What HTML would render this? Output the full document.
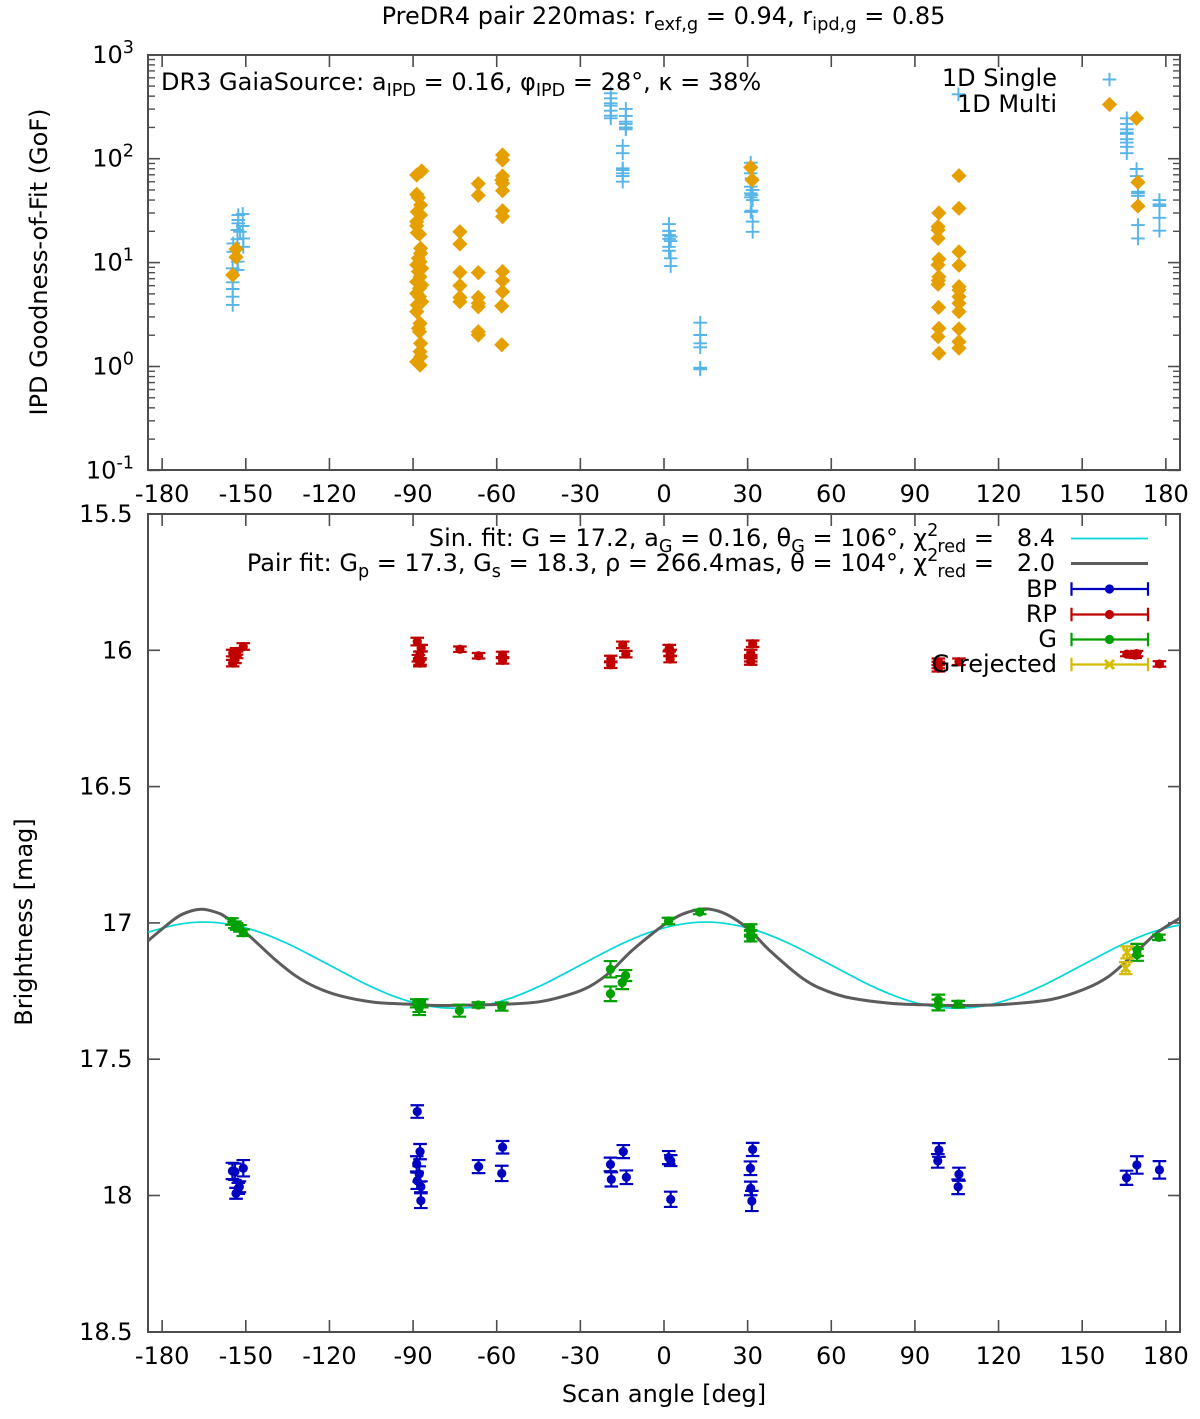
<!DOCTYPE html>
<html lang="en">
<head>
<meta charset="utf-8">
<title>PreDR4 pair scan angle chart</title>
<style>
html,body{margin:0;padding:0;background:#fff;}
svg{display:block;}
text{font-family:"DejaVu Sans","Liberation Sans",sans-serif;font-size:24px;fill:#000;white-space:pre;}
</style>
</head>
<body>
<svg id="chart" width="1200" height="1419" viewBox="0 0 1200 1419" xmlns="http://www.w3.org/2000/svg">
<rect x="0" y="0" width="1200" height="1419" fill="#fff"/>
<defs>
<clipPath id="bottom-clip"><rect x="148" y="514" width="1032" height="818"/></clipPath>
</defs>
<g id="top-axes"></g>
<g id="bottom-axes"></g>
<g id="top-marks"></g>
<g id="bottom-marks" clip-path="url(#bottom-clip)"></g>
<g id="legend-marks"></g>

<text x="663.5" y="24" text-anchor="middle">PreDR4 pair 220mas: r<tspan dy="6" font-size="17.8">exf,g</tspan><tspan dy="-6"> = 0.94, r</tspan><tspan dy="6" font-size="17.8">ipd,g</tspan><tspan dy="-6"> = 0.85</tspan></text>
<text x="161" y="90">DR3 GaiaSource: a<tspan dy="6" font-size="17.6">IPD</tspan><tspan dy="-6"> = 0.16, φ</tspan><tspan dy="6" font-size="17.6">IPD</tspan><tspan dy="-6"> = 28°, κ = 38%</tspan></text>
<text x="1057" y="86" text-anchor="end">1D Single</text>
<text x="1057" y="112" text-anchor="end">1D Multi</text>
<text x="0" y="0" text-anchor="middle" transform="translate(47,262) rotate(-90)">IPD Goodness-of-Fit (GoF)</text>

<text x="1055" y="546" text-anchor="end">Sin. fit: G = 17.2, a<tspan dy="6" font-size="17.6">G</tspan><tspan dy="-6"> = 0.16, θ</tspan><tspan dy="6" font-size="17.6">G</tspan><tspan dy="-6"> = 106°, χ</tspan><tspan dy="-10" font-size="17.6">2</tspan><tspan dy="16" dx="-1" font-size="17.6">red</tspan><tspan dy="-6"> =   8.4</tspan></text>
<text x="1055" y="571" text-anchor="end">Pair fit: G<tspan dy="6" font-size="17.6">p</tspan><tspan dy="-6"> = 17.3, G</tspan><tspan dy="6" font-size="17.6">s</tspan><tspan dy="-6"> = 18.3, ρ = 266.4mas, θ = 104°, χ</tspan><tspan dy="-10" font-size="17.6">2</tspan><tspan dy="16" dx="-1" font-size="17.6">red</tspan><tspan dy="-6"> =   2.0</tspan></text>
<text x="1057" y="597" text-anchor="end">BP</text>
<text x="1057" y="622" text-anchor="end">RP</text>
<text x="1057" y="647" text-anchor="end">G</text>
<text x="1057" y="672" text-anchor="end">G-rejected</text>
<text x="0" y="0" text-anchor="middle" transform="translate(32,922) rotate(-90)">Brightness [mag]</text>
<text x="664" y="1402" text-anchor="middle">Scan angle [deg]</text>
</svg>

<script>
// ---- tick data ----
const xTickValues = [-180,-150,-120,-90,-60,-30,0,30,60,90,120,150,180];
const gofTickExponents = [3,2,1,0,-1];
const magTickValues = [15.5,16,16.5,17,17.5,18,18.5];
const magTickLabels = ['15.5','16','16.5','17','17.5','18','18.5'];

// ---- top panel: IPD goodness of fit ----
const singleAngles = [
 -154.7,-154.7,-154.7,-154.7,-154.7,-151.1,-152.7,-152.7,-152.7,-151.1,-153,-152.1,-150.9,-153,-154.5,-150.9,-154.5,-152.9,-152.9,
 -19.1,-19.1,-19.1,-19.1,-19.1,-19.1,-19.1,
 -13.7,-13.7,-13.7,-13.7,-13.7,-13.7,
 -14.8,-14.8,-14.8,-14.8,-14.8,-14.8,-14.8,
 1.8,1.8,1.8,2.4,1.8,2.4,1.8,1.8,2.4,2.4,
 31.1,31.1,31.4,31.1,31.8,31.1,31.4,31.1,31.8,31.4,31.1,31.8,31.8,
 13,13,13,13,13,13,
 105.6,
 166,166,166,166,166,166,166,166,166,
 169.5,169.5,170,170,170,170,170,
 177.7,177.7,177.7,177.7,177.7
];
const singleGof = [
 8.81,6.46,5.57,4.70,3.91,29.4,28.7,25.7,23.9,22.5,20.6,19.8,17.1,16.8,15.3,14.2,12.7,10.2,8.49,
 426,381,341,324,290,259,245,
 301,258,227,216,200,192,
 133,113,80.9,77.8,72.3,68.1,60.1,
 23.5,20.2,18.4,17.8,16.9,16.1,14.2,13.0,11.0,9.27,
 91.5,72.3,64.8,53.8,50,46.4,44.7,42.5,40,31.6,30.7,24.8,19.8,
 2.64,2.01,1.67,1.53,0.973,0.94,
 417,
 245,216,192,178,173,154,143,130,113,
 79.6,68.1,48.1,46.4,43.8,23,17.1,
 40,36.4,35,27,20.3
];
const multiAngles = [
 -154.7,-153.5,-153.5,
 -86.9,-88.7,-88.7,-88.1,-87.3,-88.5,-87.3,-88.7,-88.7,-88.5,-87.7,-87.3,-87.3,-88.1,-87.5,-88.7,-86.9,-88.1,-87.5,-88.7,-86.9,-87.7,-88.7,-87.7,-86.9,-88.5,-88.7,-87.5,-88.1,-87.7,-87.3,-87.5,-87.3,-88.7,-87.5,
 -73.2,-73.2,-73.2,-73.2,-73.2,-73.2,
 -66.6,-66.6,-66.6,-66.6,-66.6,-66.6,-66.6,-66.6,
 -57.9,-57.9,-57.9,-58.2,-57.9,-57.9,-57.9,-57.9,-57.9,-57.9,-57.9,-58.2,-58.2,
 31.1,31.6,
 98.6,98.3,98.3,98.3,98.6,98.3,98.6,98.4,98.3,98.5,98.6,98.3,98.6,
 105.8,105.8,105.8,105.8,105.8,105.8,105.8,105.8,105.8,105.8,105.8,105.8,
 169.5,170,170
];
const multiGof = [
 7.6,13.5,11.3,
 76.2,69.7,45.4,42.2,35.8,30.9,28.7,24.8,22.6,19.4,18.8,13.7,12.3,11.0,10.2,9.5,8.8,8.2,7.3,6.55,6.09,5.66,5.06,4.70,4.2,3.91,3.37,2.6,2.33,2.16,1.67,1.39,1.24,1.11,1.03,
 19.8,15.1,8.06,6.0,4.63,4.2,
 57.5,44.4,8.0,4.63,4.06,3.76,2.16,2.01,
 108.6,97.2,68.1,62.4,58,49.2,31.6,27.7,8.2,6.7,5.25,3.82,1.62,
 82.6,62.4,
 30,22.2,20.6,17.1,10.8,9.5,7.3,6.7,6.18,3.71,2.33,1.94,1.34,
 68.6,33.3,12.7,9.42,5.87,5.45,4.7,4.06,3.37,2.3,1.73,1.5,
 245,59.3,35
];

// ---- bottom panel: photometry ----
const bpAngles = [-154.8,-150.9,-153.9,-152.7,-153.5,-152.3,-88.5,-87.5,-88.7,-87.8,-88.5,-87.2,-87.2,-66.5,-57.9,-58.2,-19.2,-18.9,-14.6,-13.5,1.7,2.4,2.4,31.8,31,31.1,31.5,98.6,98.2,105.8,105.5,165.9,169.6,177.7];
const bpMag = [17.91,17.9,17.913,17.974,17.992,17.968,17.692,17.839,17.884,17.921,17.946,17.968,18.019,17.894,17.823,17.919,17.886,17.941,17.839,17.933,17.861,17.872,18.014,17.831,17.9,17.974,18.02,17.833,17.873,17.922,17.968,17.935,17.888,17.906];
const bpErr = [0.03,0.03,0.03,0.02,0.02,0.02,0.023,0.028,0.028,0.028,0.03,0.02,0.027,0.024,0.023,0.028,0.025,0.026,0.024,0.025,0.024,0.02,0.028,0.024,0.025,0.025,0.037,0.025,0.025,0.024,0.027,0.026,0.032,0.032];

const rpAngles = [-150.9,-153.3,-154.7,-153.3,-153.9,-154.7,-88.5,-87.1,-87.6,-88.1,-87.5,-87.6,-73.2,-66.5,-57.9,-57.9,-19.1,-19.1,-14.8,-13.7,1.9,2.2,2.2,31.8,31.1,31.1,31.1,98.4,98.4,98.4,105.8,166,169.5,169,177.7];
const rpMag = [15.986,16.004,16.01,16.017,16.035,16.047,15.968,15.992,16.017,16.029,16.041,16.047,15.996,16.02,16.017,16.037,16.032,16.053,15.98,16.014,15.992,16.01,16.032,15.976,16.01,16.029,16.041,16.042,16.054,16.066,16.042,16.014,16.012,16.018,16.05];
const rpErr = [0.012,0.012,0.012,0.012,0.012,0.012,0.014,0.012,0.012,0.012,0.012,0.012,0.01,0.01,0.012,0.012,0.012,0.012,0.012,0.012,0.012,0.012,0.012,0.012,0.012,0.012,0.012,0.012,0.012,0.012,0.012,0.008,0.01,0.01,0.01];

const gAngles = [-155,-153.9,-153.3,-152.1,-150.9,-88.7,-86.9,-87.8,-87.8,-73.4,-66.6,-58.2,-19.2,-19.2,-15,-13.8,1.6,12.8,31.1,31.1,31.1,98.4,98.4,105.5,169.7,169.7,177.5];
const gMag = [16.995,17.007,17.013,17.02,17.036,17.295,17.295,17.307,17.313,17.322,17.301,17.307,17.17,17.26,17.219,17.193,16.993,16.96,17.017,17.038,17.056,17.283,17.301,17.298,17.099,17.117,17.053];
const gErr = [0.012,0.012,0.012,0.012,0.012,0.015,0.015,0.02,0.025,0.022,0.01,0.015,0.03,0.027,0.024,0.02,0.012,0.008,0.012,0.012,0.012,0.02,0.02,0.012,0.022,0.022,0.01];

const rejectedAngles = [166.1,165.6];
const rejectedMag = [17.108,17.166];
const rejectedErr = [0.022,0.022];

// ---- fitted curves ----
const sinFitAngles = [-185,-175,-165,-155,-145,-135,-125,-115,-105,-95,-85,-75,-65,-55,-45,-35,-25,-15,-5,5,15,25,35,45,55,65,75,85,95,105,115,125,135,145,155,165,175,185];
const sinFitMag = [17.034,17.007,16.997,17.007,17.034,17.076,17.128,17.182,17.234,17.276,17.304,17.313,17.304,17.276,17.234,17.182,17.128,17.076,17.034,17.007,16.997,17.007,17.034,17.076,17.128,17.182,17.234,17.276,17.304,17.313,17.304,17.276,17.234,17.182,17.128,17.076,17.034,17.007];
const pairFitAngles = [-185,-176,-171.3,-166,-161,-157,-148.5,-140,-132,-124.6,-116,-104,-92,-80,-68,-56.4,-44.5,-33.7,-26.5,-19.3,-12.2,-5,0.7,6.6,13.8,19.6,25.3,31.1,38.3,49.9,58.5,67.2,81.5,95.8,110.3,124.7,139.3,150.8,159.4,168,176.6,185];
const pairFitMag = [17.065,16.989,16.962,16.95,16.96,16.98,17.05,17.13,17.195,17.237,17.268,17.291,17.298,17.303,17.301,17.298,17.289,17.262,17.232,17.18,17.108,17.046,17.002,16.968,16.949,16.957,16.985,17.03,17.105,17.205,17.25,17.276,17.295,17.301,17.303,17.297,17.28,17.243,17.197,17.12,17.038,16.983];

// ---- axis functions ----
const NS = 'http://www.w3.org/2000/svg';
const plotLeft = 148, plotRight = 1180;
const topPanelTop = 55, topPanelBottom = 470;
const botPanelTop = 514, botPanelBottom = 1332;
const axisColor = '#4d4d4d';
function xScale(deg){ return 664 + 2.788 * deg; }
function gofScale(v){ return 366.5 - 103.9 * Math.log10(v); }
function magScale(m){ return 514 + (m - 15.5) * 272.6; }

function mk(tag, parent, props){
  const el = document.createElementNS(NS, tag);
  for (const k in props) el.setAttribute(k, props[k]);
  parent.appendChild(el);
  return el;
}
function line(parent, x1, y1, x2, y2, color, w){
  return mk('line', parent, {x1:x1, y1:y1, x2:x2, y2:y2, stroke:color, 'stroke-width':w});
}

// ---- axes ----
function drawFrame(group, top, bottom, name){
  const r = mk('rect', group, {x:plotLeft, y:top, width:plotRight-plotLeft, height:bottom-top, fill:'none', stroke:axisColor, 'stroke-width':2});
  
  
  xTickValues.forEach(function(v){
    const x = xScale(v);
    const t1 = line(group, x, bottom, x, bottom-12, axisColor, 1.6);
    
    
    const t2 = line(group, x, top, x, top+12, axisColor, 1.6);
    
    
    const lbl = mk('text', group, {x:x, y:bottom+32, 'text-anchor':'middle'});
    
    
    lbl.textContent = String(v);
  });
}
const topAxes = document.getElementById('top-axes');
const botAxes = document.getElementById('bottom-axes');
drawFrame(topAxes, topPanelTop, topPanelBottom, 'gof-panel-frame');
drawFrame(botAxes, botPanelTop, botPanelBottom, 'brightness-panel-frame');

gofTickExponents.forEach(function(e){
  const y = gofScale(Math.pow(10, e));
  const a = line(topAxes, plotLeft, y, plotLeft+12, y, axisColor, 1.6);
  
  
  const b = line(topAxes, plotRight, y, plotRight-12, y, axisColor, 1.6);
  
  
  const lbl = mk('text', topAxes, {x:134, y:y+8, 'text-anchor':'end'});
  
  
  lbl.appendChild(document.createTextNode('10'));
  const sup = mk('tspan', lbl, {dy:-10, 'font-size':17.6});
  sup.textContent = String(e);
  if (e < 3) {
    for (let m = 2; m <= 9; m++) {
      const my = gofScale(m * Math.pow(10, e));
      const c = line(topAxes, plotLeft, my, plotLeft+7, my, axisColor, 1.4);
      
      
      const d = line(topAxes, plotRight, my, plotRight-7, my, axisColor, 1.4);
      
      
    }
  }
});

magTickValues.forEach(function(v, i){
  const y = magScale(v);
  const a = line(botAxes, plotLeft, y, plotLeft+12, y, axisColor, 1.6);
  
  
  const b = line(botAxes, plotRight, y, plotRight-12, y, axisColor, 1.6);
  
  
  const lbl = mk('text', botAxes, {x:132.5, y:y+8, 'text-anchor':'end'});
  
  
  lbl.textContent = magTickLabels[i];
});

// ---- marker helpers ----
function crossAt(parent, x, y){
  const g = mk('path', parent, {d:'M'+(x-6.8)+' '+y+'H'+(x+6.8)+'M'+x+' '+(y-6.8)+'V'+(y+6.8), stroke:'#56b4e9', 'stroke-width':1.9, fill:'none'});
  return g;
}
function diamondAt(parent, x, y){
  const s = 7.6;
  return mk('path', parent, {d:'M'+x+' '+(y-s)+'L'+(x+s)+' '+y+'L'+x+' '+(y+s)+'L'+(x-s)+' '+y+'Z', fill:'#e69f00'});
}
function errPoint(parent, x, y, yLow, yHigh, color, rejected){
  const g = mk('g', parent, {});
  const cap = 6.8;
  mk('path', g, {d:'M'+x+' '+yLow+'V'+yHigh+'M'+(x-cap)+' '+yLow+'H'+(x+cap)+'M'+(x-cap)+' '+yHigh+'H'+(x+cap), stroke:color, 'stroke-width':2.2, fill:'none'});
  if (rejected) {
    mk('path', g, {d:'M'+(x-4.5)+' '+(y-4.5)+'L'+(x+4.5)+' '+(y+4.5)+'M'+(x+4.5)+' '+(y-4.5)+'L'+(x-4.5)+' '+(y+4.5), stroke:color, 'stroke-width':2.8, fill:'none'});
  } else {
    mk('circle', g, {cx:x, cy:y, r:4.6, fill:color});
  }
  return g;
}
function smoothPath(xs, ys){
  let d = 'M' + xs[0].toFixed(2) + ' ' + ys[0].toFixed(2);
  for (let i = 0; i < xs.length - 1; i++) {
    const p0 = i > 0 ? i - 1 : i, p3 = i + 2 < xs.length ? i + 2 : i + 1;
    const c1x = xs[i] + (xs[i+1] - xs[p0]) / 6, c1y = ys[i] + (ys[i+1] - ys[p0]) / 6;
    const c2x = xs[i+1] - (xs[p3] - xs[i]) / 6, c2y = ys[i+1] - (ys[p3] - ys[i]) / 6;
    d += 'C' + c1x.toFixed(2) + ' ' + c1y.toFixed(2) + ' ' + c2x.toFixed(2) + ' ' + c2y.toFixed(2) + ' ' + xs[i+1].toFixed(2) + ' ' + ys[i+1].toFixed(2);
  }
  return d;
}

// ---- top panel marks ----
const topMarks = document.getElementById('top-marks');
singleGof.forEach(function(v, i){
  const el = crossAt(topMarks, xScale(singleAngles[i]), gofScale(v));
  
  
});
multiGof.forEach(function(v, i){
  const el = diamondAt(topMarks, xScale(multiAngles[i]), gofScale(v));
  
  
});

// ---- bottom panel marks ----
const botMarks = document.getElementById('bottom-marks');
const sinLine = mk('path', botMarks, {d:smoothPath(sinFitAngles.map(xScale), sinFitMag.map(magScale)), fill:'none', stroke:'#00d8d8', 'stroke-width':1.7});


const pairLine = mk('path', botMarks, {d:smoothPath(pairFitAngles.map(xScale), pairFitMag.map(magScale)), fill:'none', stroke:'#5c5c5c', 'stroke-width':3});



bpMag.forEach(function(m, i){
  const el = errPoint(botMarks, xScale(bpAngles[i]), magScale(m), magScale(m - bpErr[i]), magScale(m + bpErr[i]), '#0000c0', false);
  
  
});
rpMag.forEach(function(m, i){
  const el = errPoint(botMarks, xScale(rpAngles[i]), magScale(m), magScale(m - rpErr[i]), magScale(m + rpErr[i]), '#c00000', false);
  
  
});
gMag.forEach(function(m, i){
  const el = errPoint(botMarks, xScale(gAngles[i]), magScale(m), magScale(m - gErr[i]), magScale(m + gErr[i]), '#00a000', false);
  
  
});
rejectedMag.forEach(function(m, i){
  const el = errPoint(botMarks, xScale(rejectedAngles[i]), magScale(m), magScale(m - rejectedErr[i]), magScale(m + rejectedErr[i]), '#d4bc00', true);
  
  
});

// ---- legend samples ----
const legendGroup = document.getElementById('legend-marks');
const legendCross = crossAt(legendGroup, 1109.5, 79.5);


const legendDiamond = diamondAt(legendGroup, 1109.5, 104.5);


const legendSin = line(legendGroup, 1071, 538.5, 1148, 538.5, '#00d8d8', 1.7);


const legendPair = line(legendGroup, 1071, 563.5, 1148, 563.5, '#5c5c5c', 3);


function legendErr(y, color, rejected){
  const g = mk('g', legendGroup, {});
  mk('path', g, {d:'M1071.5 '+y+'H1148M1071.5 '+(y-6.8)+'V'+(y+6.8)+'M1148 '+(y-6.8)+'V'+(y+6.8), stroke:color, 'stroke-width':2.2, fill:'none'});
  if (rejected) {
    mk('path', g, {d:'M1105 '+(y-4.5)+'L1114 '+(y+4.5)+'M1114 '+(y-4.5)+'L1105 '+(y+4.5), stroke:color, 'stroke-width':2.8, fill:'none'});
  } else {
    mk('circle', g, {cx:1109.5, cy:y, r:4.6, fill:color});
  }
  return g;
}
const legendBp = legendErr(589, '#0000c0', false);


const legendRp = legendErr(614.5, '#c00000', false);


const legendG = legendErr(639.5, '#00a000', false);


const legendRej = legendErr(664.5, '#d4bc00', true);


</script>
</body>
</html>
